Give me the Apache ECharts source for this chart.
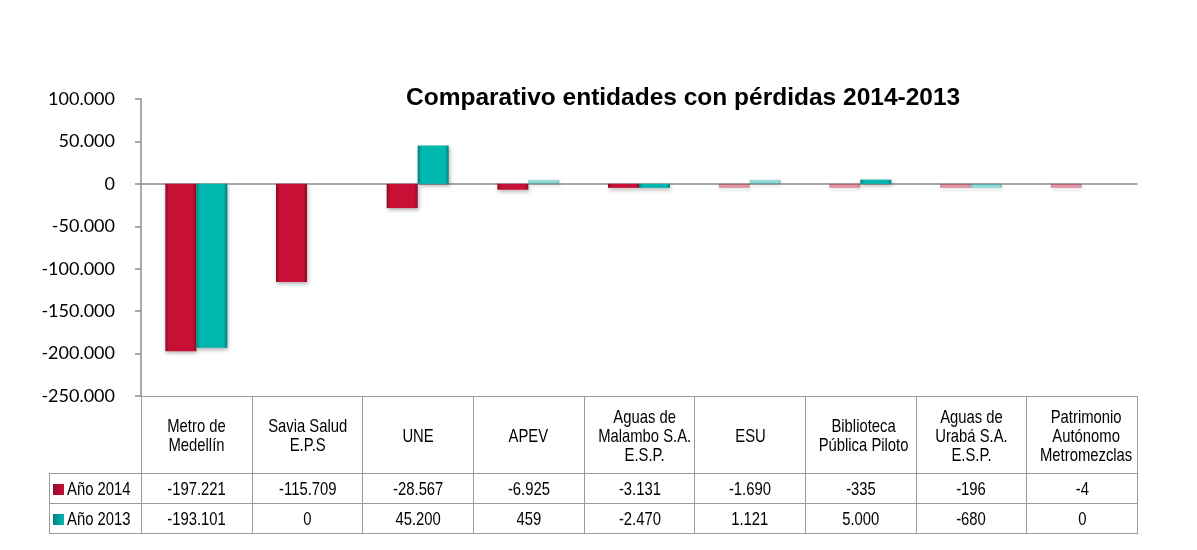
<!DOCTYPE html>
<html>
<head>
    <meta charset="utf-8">
    <title>Comparativo entidades con pérdidas</title>
    <script src="https://cdn.jsdelivr.net/npm/echarts@6.0.0/dist/echarts.min.js"></script>
    <style>
        body { margin: 0; background: #fff; }
        #wrap { position: relative; width: 1197px; height: 550px; }
        #main { position: absolute; left: 0; top: 0; width: 1197px; height: 550px; }
        #tabla { position: absolute; border-collapse: collapse; table-layout: fixed;
                 font-family: 'Liberation Sans', sans-serif; font-size: 19px; color: #000; }
        #tabla td { border: 1.5px solid #9a9a9a; text-align: center; padding: 0; line-height: 19px; overflow: visible; }
        #tabla td.vacio { border-top: none; border-left: none; border-bottom: 1.5px solid #9a9a9a; }
        #tabla td.serie { text-align: left; padding-left: 3px; white-space: nowrap; }
        /* texto estrecho, como Arial Narrow */
        .t { display: inline-block; transform: scaleX(0.78); white-space: nowrap; }
        .serie .t { transform-origin: left center; }
        .sw { display: inline-block; width: 11px; height: 11px; margin-right: 3px; vertical-align: 0px; }
    </style>
</head>
<body>
<div id="wrap">
    <div id="main"></div>
    <table id="tabla"></table>
</div>
<script type="text/javascript">
    var categorias = ['Metro de\nMedellín', 'Savia Salud\nE.P.S', 'UNE', 'APEV', 'Aguas de\nMalambo S.A.\nE.S.P.',
        'ESU', 'Biblioteca\nPública Piloto', 'Aguas de\nUrabá S.A.\nE.S.P.', 'Patrimonio\nAutónomo\nMetromezclas'];
    var anio2014 = [-197221, -115709, -28567, -6925, -3131, -1690, -335, -196, -4];
    var anio2013 = [-193101, 0, 45200, 459, -2470, 1121, 5000, -680, 0];
    var nombres = ['Año 2014', 'Año 2013'];
    var colores = ['#c80f36', '#00b8b0'];
    var colorOscuro = ['#8f0a26', '#00807a'];

    var GRID_LEFT = 141, GRID_RIGHT = 60, GRID_TOP = 99, GRID_BOTTOM = 154;
    var TABLA_LEFT = 49, CAB_ALTO = 77, FILA_ALTO = 30;

    function miles(v) {
        var s = Math.abs(v).toString().replace(/\B(?=(\d{3})+(?!\d))/g, '.');
        return (v < 0 ? '-' : '') + s;
    }

    function relleno(i) {
        return new echarts.graphic.LinearGradient(0, 0, 1, 0, [
            {offset: 0, color: colorOscuro[i]},
            {offset: 0.12, color: colores[i]},
            {offset: 0.88, color: colores[i]},
            {offset: 1, color: colorOscuro[i]}
        ]);
    }

    // los ceros no se ven y las barras muy pequeñas salen pálidas, como en Excel
    function puntos(d) {
        return d.map(function (v) {
            if (v === 0) return {value: v, itemStyle: {opacity: 0, shadowBlur: 0}};
            if (Math.abs(v) < 2000) return {value: v, itemStyle: {opacity: 0.4}};
            return v;
        });
    }

    var myChart = echarts.init(document.getElementById('main'));
    var option = {
        animation: false,
        title: {
            text: 'Comparativo entidades con pérdidas 2014-2013',
            left: 401,
            top: 81,
            textStyle: {fontFamily: 'Liberation Sans', fontSize: 24.5, fontWeight: 'bold', color: '#000'}
        },
        grid: {left: GRID_LEFT, right: GRID_RIGHT, top: GRID_TOP, bottom: GRID_BOTTOM},
        xAxis: {
            type: 'category',
            data: categorias,
            axisLine: {onZero: true, lineStyle: {color: '#8c8c8c', width: 1.5}},
            axisTick: {show: false},
            axisLabel: {show: false}
        },
        yAxis: {
            type: 'value',
            min: -250000,
            max: 100000,
            interval: 50000,
            axisLine: {show: true, lineStyle: {color: '#8c8c8c', width: 1.5}},
            axisTick: {show: true, length: 6, lineStyle: {color: '#8c8c8c', width: 1.5}},
            splitLine: {show: false},
            axisLabel: {
                formatter: miles,
                margin: 26,
                fontFamily: 'Lato',
                fontSize: 18,
                color: '#000'
            }
        },
        series: [anio2014, anio2013].map(function (d, i) {
            return {
                name: nombres[i],
                type: 'bar',
                data: puntos(d),
                barWidth: 31,
                barGap: '0%',
                barMinHeight: 4,
                itemStyle: {
                    color: relleno(i),
                    shadowBlur: 4,
                    shadowColor: 'rgba(0,0,0,0.3)',
                    shadowOffsetX: 1,
                    shadowOffsetY: 2
                }
            };
        })
    };
    myChart.setOption(option);

    // tabla de datos bajo el eje
    var anchoCol = (1197 - GRID_LEFT - GRID_RIGHT) / categorias.length;
    var tabla = document.getElementById('tabla');
    tabla.style.left = TABLA_LEFT + 'px';
    tabla.style.top = (550 - GRID_BOTTOM) + 'px';
    tabla.style.width = (1197 - GRID_RIGHT - TABLA_LEFT) + 'px';
    var html = '<colgroup><col style="width:' + (GRID_LEFT - TABLA_LEFT) + 'px">';
    categorias.forEach(function () { html += '<col style="width:' + anchoCol + 'px">'; });
    html += '</colgroup><tr style="height:' + CAB_ALTO + 'px"><td class="vacio"></td>';
    categorias.forEach(function (c) { html += '<td><span class="t">' + c.replace(/\n/g, '<br>') + '</span></td>'; });
    html += '</tr>';
    [anio2014, anio2013].forEach(function (d, i) {
        html += '<tr style="height:' + FILA_ALTO + 'px"><td class="serie"><span class="sw" style="background:linear-gradient(90deg,' +
            colorOscuro[i] + ',' + colores[i] + ')"></span><span class="t">' + nombres[i] + '</span></td>';
        d.forEach(function (v) { html += '<td><span class="t">' + miles(v) + '</span></td>'; });
        html += '</tr>';
    });
    tabla.innerHTML = html;
</script>
</body>
</html>
